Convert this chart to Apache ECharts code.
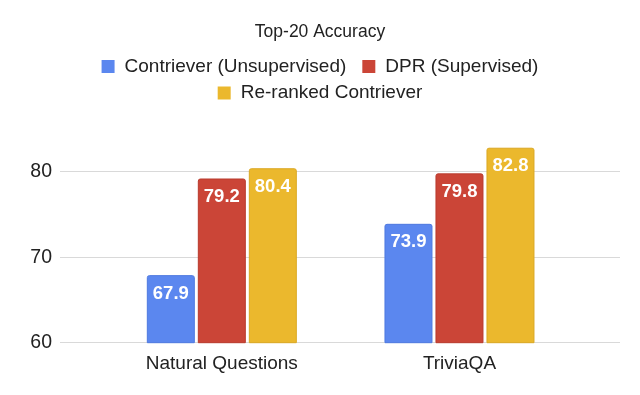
<!DOCTYPE html>
<html>
<head>
<meta charset="utf-8">
<script src="https://cdn.jsdelivr.net/npm/echarts@6/dist/echarts.min.js"></script>
<style>html,body{margin:0;padding:0;background:#fff}#c{width:640px;height:395px}</style>
</head>
<body>
<div id="c"></div>
<script>
const titleText = 'Top-20 Accuracy';
const categories = ['Natural Questions', 'TriviaQA'];
const seriesNames = ['Contriever (Unsupervised)', 'DPR (Supervised)', 'Re-ranked Contriever'];
const contrieverValues = [67.9, 73.9];
const dprValues = [79.2, 79.8];
const rerankedValues = [80.4, 82.8];
const yTicks = [60, 70, 80];

const colors = ['#5b87ef', '#cb4537', '#ebb82d'];
const borders = ['#4e79e0', '#b93a2d', '#dba823'];
const FONT = '"Liberation Sans", Arial, sans-serif';
const TOP = 128.9, BOTTOM = 52.3;

const values = [contrieverValues, dprValues, rerankedValues];
const series = values.map((v, i) => ({
  name: seriesNames[i],
  type: 'bar',
  xAxisIndex: 1,
  yAxisIndex: 1,
  data: v,
  barWidth: 48,
  barGap: '6.25%',
  itemStyle: { color: colors[i], borderColor: borders[i], borderWidth: 1, borderRadius: [2, 2, 0, 0] },
  label: {
    show: true,
    position: 'insideTop',
    distance: 9,
    color: '#fff',
    fontWeight: 'bold',
    fontSize: 18.5,
    lineHeight: 19,
    fontFamily: FONT,
    formatter: p => p.value.toFixed(1)
  }
}));

const legendCommon = {
  orient: 'horizontal',
  left: 'center',
  padding: 0,
  icon: 'rect',
  itemWidth: 13,
  itemHeight: 13,
  itemGap: 16,
  itemStyle: { borderWidth: 0 },
  textStyle: { fontSize: 19, fontFamily: FONT, color: '#222', padding: [0, 0, 0, 5], lineHeight: 19 }
};

const option = {
  animation: false,
  title: {
    text: titleText,
    left: 'center',
    top: 23,
    padding: 0,
    textStyle: { fontSize: 17.5, fontWeight: 'normal', fontFamily: FONT, color: '#222', lineHeight: 18 }
  },
  legend: [
    Object.assign({}, legendCommon, { top: 57, data: seriesNames.slice(0, 2) }),
    Object.assign({}, legendCommon, { top: 83.5, data: seriesNames.slice(2) })
  ],
  grid: [
    { left: 60, right: 20, top: TOP, bottom: BOTTOM },
    { left: 103, right: 61.7, top: TOP, bottom: BOTTOM }
  ],
  xAxis: [
    { type: 'category', gridIndex: 0, data: categories, show: false },
    {
      type: 'category', gridIndex: 1, data: categories,
      axisLine: { show: false }, axisTick: { show: false },
      axisLabel: { fontSize: 19, fontFamily: FONT, color: '#222', margin: 12, lineHeight: 19 }
    }
  ],
  yAxis: [
    {
      type: 'value', gridIndex: 0, min: yTicks[0], max: 85, interval: yTicks[1] - yTicks[0],
      axisLine: { show: false }, axisTick: { show: false },
      axisLabel: { fontSize: 19.5, fontFamily: FONT, color: '#222', margin: 8, showMaxLabel: false },
      splitLine: { show: true, showMaxLine: false, lineStyle: { color: '#d9d9d9', width: 1 } }
    },
    {
      type: 'value', gridIndex: 1, min: yTicks[0], max: 85, interval: yTicks[1] - yTicks[0],
      show: false, splitLine: { show: false }
    }
  ],
  series: series
};

const chart = echarts.init(document.getElementById('c'), null, { renderer: 'canvas' });
chart.setOption(option);
</script>
</body>
</html>
